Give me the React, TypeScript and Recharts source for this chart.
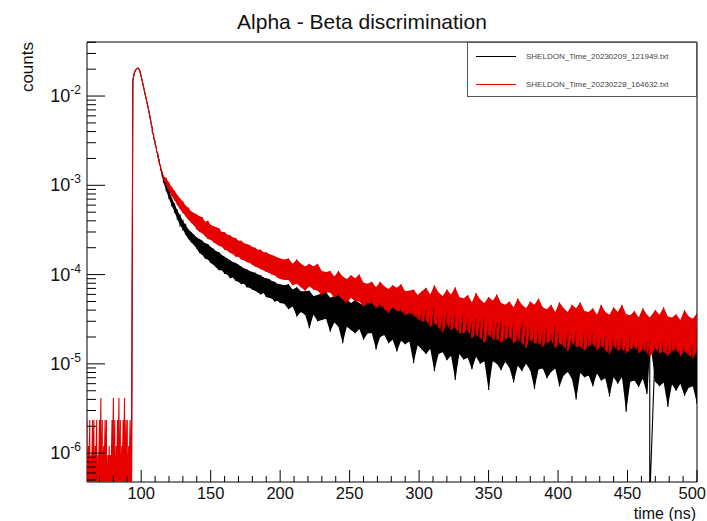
import React from 'react';
import { ComposedChart, Line, Area, XAxis, YAxis, ReferenceArea } from 'recharts';

const FONT = '"Liberation Sans", Arial, Helvetica, sans-serif';

// bin positions (ns)
const timePre = [61, 62, 63, 64, 65, 66, 67, 68, 69, 70, 71, 72, 73, 74, 75, 76, 77, 78, 79, 80, 81, 82, 83, 84, 85, 86, 87, 88, 89, 90, 91, 92, 93];
const timePeak = [94, 95, 96, 97, 98, 99, 100, 101, 102, 103, 104, 105, 106, 107, 108, 109, 110, 111, 112, 113, 114, 115, 116];
const timeMid = [118, 120, 122, 124, 126, 128, 130, 132, 134, 136, 138, 140, 142, 144, 146, 148, 150, 152, 154, 156, 158, 160, 162, 164, 166, 168, 170, 172, 174, 176, 178, 180, 182, 184, 186, 188, 190, 192, 194, 196, 198, 200];
const timeTail = [
  203, 206, 209, 212, 215, 218, 221, 224, 227, 230, 233, 236, 239, 242, 245, 248, 251, 254, 257, 260, 263, 266, 269, 272, 275, 278, 281, 284, 287, 290, 293, 296, 299,
  302, 305, 308, 311, 314, 317, 320, 323, 326, 329, 332, 335, 338, 341, 344, 347, 350, 353, 356, 359, 362, 365, 368, 371, 374, 377, 380, 383, 386, 389, 392, 395, 398, 401, 404, 407, 410, 413, 416, 419,
  422, 425, 428, 431, 434, 437, 440, 443, 446, 449, 452, 455, 458, 461, 464, 466, 470, 473, 476, 479, 482, 485, 488, 491, 494, 497, 500,
];
const timeNs = [...timePre, ...timePeak, ...timeMid, ...timeTail];

// upper / lower edge of the noise band of each histogram (0 = empty bin)
const blackHi = [
  0, 0, 0, 0, 0, 0, 9.5e-7, 9.5e-7, 0, 9.5e-7, 9.5e-7, 0, 9.5e-7, 0, 9.5e-7, 0, 9.5e-7, 0, 0, 9.5e-7, 9.5e-7, 0, 9.5e-7, 0, 9.5e-7, 9.5e-7, 0, 9.5e-7, 0, 9.5e-7, 9.5e-7, 0, 0,
  0.015, 0.018, 0.0196, 0.0204, 0.0205, 0.0192, 0.0166, 0.0141, 0.012, 0.0102, 0.0087, 0.0074, 0.0062, 0.0051, 0.0043, 0.0036, 0.0031, 0.0026, 0.00224, 0.0019, 0.00162, 0.00138, 0.00118,
  1.05e-3, 8.9e-4, 7.2e-4, 6.2e-4, 5.25e-4, 4.6e-4, 4.0e-4, 3.6e-4, 3.2e-4, 3.0e-4, 2.8e-4, 2.6e-4,
  2.5e-4, 2.4e-4, 2.24e-4, 2.2e-4, 2.04e-4, 1.95e-4, 1.82e-4, 1.78e-4, 1.66e-4, 1.58e-4,
  1.51e-4, 1.45e-4, 1.38e-4, 1.35e-4, 1.29e-4, 1.23e-4, 1.17e-4, 1.15e-4, 1.10e-4, 1.07e-4,
  1.05e-4, 1.0e-4, 9.8e-5, 9.3e-5, 9.1e-5, 8.9e-5, 8.5e-5, 8.3e-5, 7.9e-5, 7.8e-5,
  7.6e-5, 7.8e-5, 6.8e-5, 7.2e-5, 6.5e-5, 6.5e-5, 6.6e-5, 5.75e-5, 5.9e-5, 6.2e-5,
  6.4e-5, 5.5e-5, 5.75e-5, 5.9e-5, 5.3e-5, 5.3e-5, 4.8e-5, 5.2e-5, 4.8e-5, 4.5e-5,
  5.2e-5, 5.3e-5, 4.6e-5, 4.7e-5, 4.8e-5, 4.3e-5, 4.4e-5, 4.0e-5, 4.4e-5, 4.0e-5,
  3.8e-5, 4.0e-5, 3.8e-5,
  3.9e-5, 4.05e-5, 3.5e-5, 4.3e-5, 3.7e-5, 3.5e-5, 3.8e-5, 3.4e-5, 3.5e-5, 3.2e-5,
  3.65e-5, 3.25e-5, 3.0e-5, 3.25e-5, 3.0e-5, 3.4e-5, 2.75e-5, 3.0e-5, 2.9e-5, 3.0e-5,
  2.65e-5, 2.7e-5, 2.85e-5, 2.45e-5, 2.9e-5, 2.55e-5, 2.55e-5, 2.4e-5, 2.65e-5, 2.35e-5,
  2.5e-5, 2.2e-5, 2.65e-5, 2.3e-5, 2.15e-5, 2.3e-5, 2.15e-5, 2.35e-5, 2.0e-5, 2.2e-5,
  2.1e-5, 2.25e-5, 1.95e-5, 1.95e-5, 2.05e-5, 1.82e-5, 2.1e-5, 1.9e-5, 2.0e-5, 1.78e-5,
  2.1e-5, 1.78e-5, 1.86e-5, 1.66e-5, 1.78e-5, 1.86e-5, 1.7e-5, 1.74e-5, 1.82e-5, 1.58e-5,
  1.86e-5, 1.66e-5, 1.51e-5, 1.58e-5, 1.55e-5, 1.66e-5, 1.48e-5,
];
const blackLo = [
  0, 0, 0, 0, 0, 0, 0, 0, 0, 0, 0, 0, 0, 0, 0, 0, 0, 0, 0, 0, 0, 0, 0, 0, 0, 0, 0, 0, 0, 0, 0, 0, 0,
  0.015, 0.018, 0.0196, 0.0204, 0.0205, 0.0192, 0.0166, 0.0141, 0.012, 0.0102, 0.0087, 0.0074, 0.0062, 0.0051, 0.004, 0.00335, 0.0029, 0.00242, 0.00208, 0.00177, 0.0015, 0.00128, 0.00108,
  8.7e-4, 7.1e-4, 5.9e-4, 5.0e-4, 4.2e-4, 3.55e-4, 3.2e-4, 2.8e-4, 2.5e-4, 2.3e-4, 2.14e-4, 1.95e-4,
  1.74e-4, 1.66e-4, 1.51e-4, 1.48e-4, 1.35e-4, 1.29e-4, 1.2e-4, 1.12e-4, 1.12e-4, 1.02e-4,
  1.0e-4, 9.1e-5, 9.3e-5, 8.5e-5, 8.3e-5, 7.8e-5, 7.9e-5, 7.2e-5, 7.1e-5, 6.8e-5,
  6.6e-5, 6.3e-5, 6.0e-5, 6.2e-5, 5.6e-5, 5.5e-5, 5.4e-5, 5.0e-5, 5.1e-5, 4.8e-5,
  4.7e-5, 4.1e-5, 4.4e-5, 3.4e-5, 3.8e-5, 3.55e-5, 2.5e-5, 3.55e-5, 3.0e-5, 3.1e-5,
  3.2e-5, 2.3e-5, 2.9e-5, 2.6e-5, 1.7e-5, 2.6e-5, 2.4e-5, 2.2e-5, 2.45e-5, 1.86e-5,
  2.2e-5, 2.2e-5, 1.45e-5, 2.0e-5, 2.1e-5, 1.7e-5, 1.86e-5, 1.38e-5, 1.82e-5, 1.66e-5,
  1.78e-5, 1.02e-5, 1.62e-5,
  1.45e-5, 1.29e-5, 1.48e-5, 8.3e-6, 1.29e-5, 1.35e-5, 1.10e-5, 1.23e-5, 6.6e-6, 1.29e-5,
  1.12e-5, 1.17e-5, 8.7e-6, 1.2e-5, 1.0e-5, 1.07e-5, 5.1e-6, 1.07e-5, 1.0e-5, 8.5e-6,
  1.05e-5, 9.1e-6, 6.2e-6, 9.5e-6, 8.3e-6, 1.0e-5, 8.5e-6, 5.25e-6, 8.7e-6, 8.9e-6,
  6.9e-6, 8.1e-6, 8.9e-6, 5.6e-6, 7.4e-6, 8.1e-6, 6.8e-6, 4.0e-6, 7.9e-6, 7.1e-6,
  7.4e-6, 5.6e-6, 7.8e-6, 6.5e-6, 6.9e-6, 4.3e-6, 7.1e-6, 6.0e-6, 7.1e-6, 2.9e-6,
  6.3e-6, 6.5e-6, 5.5e-6, 6.8e-6, 4.6e-6, 0, 6.3e-6, 5.6e-6, 6.2e-6, 3.3e-6,
  5.9e-6, 5.0e-6, 6.0e-6, 4.4e-6, 5.4e-6, 5.6e-6, 3.55e-6,
];
const redHi = [
  2.35e-6, 1.2e-6, 2.35e-6, 9.5e-7, 2.35e-6, 2.35e-6, 1.2e-6, 2.35e-6, 9.5e-7, 2.35e-6, 4.15e-6, 2.35e-6, 1.2e-6, 2.35e-6, 2.35e-6, 9.5e-7, 1.2e-6, 9.5e-7, 2.35e-6, 4.15e-6, 2.35e-6, 1.2e-6, 2.35e-6, 4.15e-6, 2.35e-6, 1.2e-6, 2.35e-6, 4.15e-6, 2.35e-6, 2.35e-6, 1.2e-6, 2.35e-6, 2.35e-6,
  0.015, 0.018, 0.0196, 0.0204, 0.0205, 0.0192, 0.0166, 0.0141, 0.012, 0.0102, 0.0087, 0.0074, 0.0062, 0.0051, 0.0043, 0.0036, 0.0031, 0.0026, 0.00224, 0.0019, 0.00162, 0.00143, 0.00128,
  1.20e-3, 1.07e-3, 9.5e-4, 8.7e-4, 7.8e-4, 7.1e-4, 6.6e-4, 5.9e-4, 5.6e-4, 5.1e-4, 4.9e-4, 4.7e-4,
  4.5e-4, 4.4e-4, 3.9e-4, 4.0e-4, 3.6e-4, 3.5e-4, 3.4e-4, 3.3e-4, 3.0e-4, 3.0e-4,
  2.8e-4, 2.75e-4, 2.6e-4, 2.57e-4, 2.4e-4, 2.4e-4, 2.24e-4, 2.2e-4, 2.14e-4, 2.04e-4,
  2.0e-4, 1.9e-4, 1.9e-4, 1.78e-4, 1.78e-4, 1.7e-4, 1.66e-4, 1.62e-4, 1.55e-4, 1.51e-4,
  1.48e-4, 1.51e-4, 1.32e-4, 1.48e-4, 1.32e-4, 1.23e-4, 1.32e-4, 1.23e-4, 1.32e-4, 1.10e-4,
  1.07e-4, 1.10e-4, 9.5e-5, 1.10e-4, 9.5e-5, 8.9e-5, 9.8e-5, 9.1e-5, 1.0e-4, 8.1e-5,
  7.9e-5, 8.3e-5, 7.2e-5, 8.3e-5, 7.4e-5, 6.9e-5, 7.6e-5, 7.1e-5, 7.8e-5, 6.5e-5,
  6.6e-5, 6.8e-5, 5.9e-5,
  6.5e-5, 7.1e-5, 6.0e-5, 7.6e-5, 6.3e-5, 5.75e-5, 6.8e-5, 6.0e-5, 7.2e-5, 5.6e-5,
  5.4e-5, 5.9e-5, 4.9e-5, 6.2e-5, 5.25e-5, 4.8e-5, 5.6e-5, 5.1e-5, 6.0e-5, 4.8e-5,
  4.6e-5, 5.0e-5, 4.3e-5, 5.4e-5, 4.6e-5, 4.2e-5, 5.0e-5, 4.6e-5, 5.4e-5, 4.3e-5,
  4.1e-5, 4.6e-5, 3.8e-5, 4.9e-5, 4.2e-5, 3.8e-5, 4.6e-5, 4.2e-5, 4.9e-5, 3.9e-5,
  3.8e-5, 4.2e-5, 3.55e-5, 4.6e-5, 3.8e-5, 3.55e-5, 4.3e-5, 3.8e-5, 4.6e-5, 3.6e-5,
  3.5e-5, 3.9e-5, 3.3e-5, 4.2e-5, 3.55e-5, 3.3e-5, 4.0e-5, 3.55e-5, 4.3e-5, 3.4e-5,
  3.3e-5, 3.6e-5, 3.1e-5, 4.0e-5, 3.4e-5, 3.2e-5, 3.7e-5,
];
const redLo = [
  0, 0, 0, 0, 0, 0, 0, 0, 0, 0, 0, 0, 0, 0, 0, 0, 0, 0, 0, 0, 0, 0, 0, 0, 0, 0, 0, 0, 0, 0, 0, 0, 0,
  0.015, 0.018, 0.0196, 0.0204, 0.0205, 0.0192, 0.0166, 0.0141, 0.012, 0.0102, 0.0087, 0.0074, 0.0062, 0.0051, 0.004, 0.00335, 0.0029, 0.00242, 0.00208, 0.00177, 0.0015, 0.00133, 0.00118,
  1.00e-3, 8.7e-4, 7.6e-4, 6.8e-4, 6.0e-4, 5.4e-4, 4.9e-4, 4.5e-4, 4.1e-4, 3.8e-4, 3.55e-4, 3.2e-4,
  3.0e-4, 2.9e-4, 2.7e-4, 2.5e-4, 2.45e-4, 2.3e-4, 2.2e-4, 2.1e-4, 2.05e-4, 1.9e-4,
  1.86e-4, 1.74e-4, 1.7e-4, 1.58e-4, 1.58e-4, 1.48e-4, 1.45e-4, 1.38e-4, 1.35e-4, 1.29e-4,
  1.23e-4, 1.2e-4, 1.15e-4, 1.12e-4, 1.07e-4, 1.05e-4, 1.0e-4, 9.8e-5, 9.3e-5, 8.9e-5,
  8.7e-5, 8.7e-5, 7.6e-5, 7.9e-5, 7.2e-5, 6.6e-5, 7.4e-5, 6.8e-5, 6.6e-5, 5.9e-5,
  6.3e-5, 6.3e-5, 5.5e-5, 5.9e-5, 5.25e-5, 4.8e-5, 5.5e-5, 5.0e-5, 5.0e-5, 4.4e-5,
  4.7e-5, 4.8e-5, 4.2e-5, 4.5e-5, 4.1e-5, 3.7e-5, 4.3e-5, 3.9e-5, 3.9e-5, 3.5e-5,
  3.7e-5, 3.5e-5, 3.2e-5,
  2.95e-5, 3.05e-5, 2.6e-5, 2.85e-5, 2.55e-5, 2.25e-5, 2.7e-5, 2.4e-5, 2.5e-5, 2.2e-5,
  2.2e-5, 2.35e-5, 1.95e-5, 2.1e-5, 1.95e-5, 1.74e-5, 2.1e-5, 1.86e-5, 1.86e-5, 1.74e-5,
  1.86e-5, 2.0e-5, 1.7e-5, 1.86e-5, 1.7e-5, 1.51e-5, 1.86e-5, 1.7e-5, 1.7e-5, 1.55e-5,
  1.7e-5, 1.82e-5, 1.51e-5, 1.7e-5, 1.55e-5, 1.38e-5, 1.7e-5, 1.55e-5, 1.55e-5, 1.41e-5,
  1.58e-5, 1.66e-5, 1.41e-5, 1.58e-5, 1.41e-5, 1.29e-5, 1.58e-5, 1.41e-5, 1.45e-5, 1.32e-5,
  1.45e-5, 1.55e-5, 1.32e-5, 1.45e-5, 1.32e-5, 1.2e-5, 1.48e-5, 1.32e-5, 1.35e-5, 1.23e-5,
  1.38e-5, 1.45e-5, 1.23e-5, 1.38e-5, 1.26e-5, 1.15e-5, 1.38e-5,
];

const seriesNames = ['SHELDON_Time_20230209_121949.txt', 'SHELDON_Time_20230228_164632.txt'];
const seriesColors = ['#000000', '#e60000'];

const xMajor = [100, 150, 200, 250, 300, 350, 400, 450, 500];
const xMinor = [70, 80, 90, 110, 120, 130, 140, 160, 170, 180, 190, 210, 220, 230, 240, 260, 270, 280, 290, 310, 320, 330, 340, 360, 370, 380, 390, 410, 420, 430, 440, 460, 470, 480, 490];
const yDecades = [1e-7, 1e-6, 1e-5, 1e-4, 1e-3, 1e-2];
const yMult = [1, 2, 3, 4, 5, 6, 7, 8, 9];

const X_DOMAIN: [number, number] = [61, 500];
const Y_DOMAIN: [number, number] = [4.75e-7, 0.0403];
const FLOOR = 3e-7; // empty bins drop just under the axis
const BAND_FROM = 112; // noise band is filled from here on

const yTicks = yDecades
  .flatMap((d) => yMult.map((m) => m * d))
  .filter((v) => v >= Y_DOMAIN[0] && v <= Y_DOMAIN[1]);

// each bin contributes its upper and lower edge, giving the noisy histogram look
const toPath = (hi: number[], lo: number[]) =>
  timeNs.flatMap((t, i) => [
    { t, v: hi[i] || FLOOR },
    { t, v: lo[i] || FLOOR },
  ]);

// filled spread between the edges
const toBand = (hi: number[], lo: number[]) =>
  timeNs
    .map((t, i) => ({ t, band: [lo[i] || hi[i], hi[i]] }))
    .filter((d) => d.t >= BAND_FROM);

const blackData = toPath(blackHi, blackLo);
const redData = toPath(redHi, redLo);
const blackBand = toBand(blackHi, blackLo);
const redBand = toBand(redHi, redLo);

const YTick = (props: any) => {
  const { x, y, payload } = props;
  const lg = Math.log10(payload.value);
  const e = Math.round(lg);
  const major = Math.abs(lg - e) < 1e-6;
  return (
    <g>
      <line x1={x} x2={x + (major ? 18 : 9)} y1={y} y2={y} stroke="#000" strokeWidth={1} />
      {major && (
        <text x={x - 6} y={y + 6} textAnchor="end" fontSize={18} fontFamily={FONT} fill="#111">
          10
          <tspan dy={-8} fontSize={12}>{`-${-e}`}</tspan>
        </text>
      )}
    </g>
  );
};

const XTick = (props: any) => {
  const { x, y, payload } = props;
  const major = xMajor.includes(payload.value);
  const last = payload.value === X_DOMAIN[1];
  return (
    <g>
      <line x1={x} x2={x} y1={y} y2={y - (major ? 12 : 6)} stroke="#000" strokeWidth={1} />
      {major && (
        <text
          x={last ? 706 : x}
          y={y + 17}
          textAnchor={last ? 'end' : 'middle'}
          fontSize={16.5}
          fontFamily={FONT}
          fill="#111"
        >
          {payload.value}
        </text>
      )}
    </g>
  );
};

export default function App() {
  return (
    <div style={{ position: 'fixed', left: 0, top: 0, width: 707, height: 521, background: '#fff' }}>
      <ComposedChart width={707} height={521} margin={{ top: 42, right: 10, bottom: 9, left: 27 }}>
        <XAxis
          dataKey="t"
          type="number"
          domain={X_DOMAIN}
          allowDataOverflow
          ticks={[...xMajor, ...xMinor]}
          interval={0}
          tick={<XTick />}
          tickLine={false}
          tickSize={0}
          tickMargin={0}
          axisLine={false}
          height={30}
        />
        <YAxis
          type="number"
          scale="log"
          domain={Y_DOMAIN}
          allowDataOverflow
          ticks={yTicks}
          interval={0}
          tick={<YTick />}
          tickLine={false}
          tickSize={0}
          tickMargin={0}
          axisLine={false}
          width={60}
        />
        <Area
          data={blackBand}
          dataKey="band"
          type="linear"
          stroke="none"
          fill={seriesColors[0]}
          fillOpacity={1}
          dot={false}
          activeDot={false}
          isAnimationActive={false}
        />
        <Line
          data={blackData}
          dataKey="v"
          name={seriesNames[0]}
          stroke={seriesColors[0]}
          strokeWidth={1.1}
          dot={false}
          type="linear"
          isAnimationActive={false}
        />
        <Area
          data={redBand}
          dataKey="band"
          type="linear"
          stroke="none"
          fill={seriesColors[1]}
          fillOpacity={1}
          dot={false}
          activeDot={false}
          isAnimationActive={false}
        />
        <Line
          data={redData}
          dataKey="v"
          name={seriesNames[1]}
          stroke={seriesColors[1]}
          strokeWidth={1.1}
          dot={false}
          type="linear"
          isAnimationActive={false}
        />
        <ReferenceArea
          x1={X_DOMAIN[0]}
          x2={X_DOMAIN[1]}
          y1={Y_DOMAIN[0]}
          y2={Y_DOMAIN[1]}
          stroke="#000"
          strokeWidth={1}
          fill="none"
          fillOpacity={0}
        />
      </ComposedChart>

      <svg width={707} height={521} style={{ position: 'absolute', left: 0, top: 0, pointerEvents: 'none' }}>
        <text x={362} y={29} textAnchor="middle" fontSize={21} fontFamily={FONT} fill="#111">
          Alpha - Beta discrimination
        </text>
        <text transform="translate(33,42) rotate(-90)" textAnchor="end" fontSize={17} fontFamily={FONT} fill="#111">
          counts
        </text>
        <text x={696} y={518.5} textAnchor="end" fontSize={16} fontFamily={FONT} fill="#111">
          time (ns)
        </text>
      </svg>

      <div
        style={{
          position: 'absolute',
          left: 467,
          top: 42,
          width: 230,
          height: 55,
          border: '1px solid #555',
          background: '#fff',
          boxSizing: 'border-box',
          fontFamily: FONT,
        }}
      >
        {seriesNames.map((name, i) => (
          <React.Fragment key={name}>
            <div
              style={{
                position: 'absolute',
                left: 8,
                top: 13 + i * 28,
                width: 40,
                height: 1,
                background: seriesColors[i],
              }}
            />
            <div
              style={{
                position: 'absolute',
                left: 58,
                top: 8 + i * 28,
                height: 11,
                lineHeight: '11px',
                fontSize: 8,
                color: '#444',
                whiteSpace: 'nowrap',
              }}
            >
              {name}
            </div>
          </React.Fragment>
        ))}
      </div>
    </div>
  );
}
